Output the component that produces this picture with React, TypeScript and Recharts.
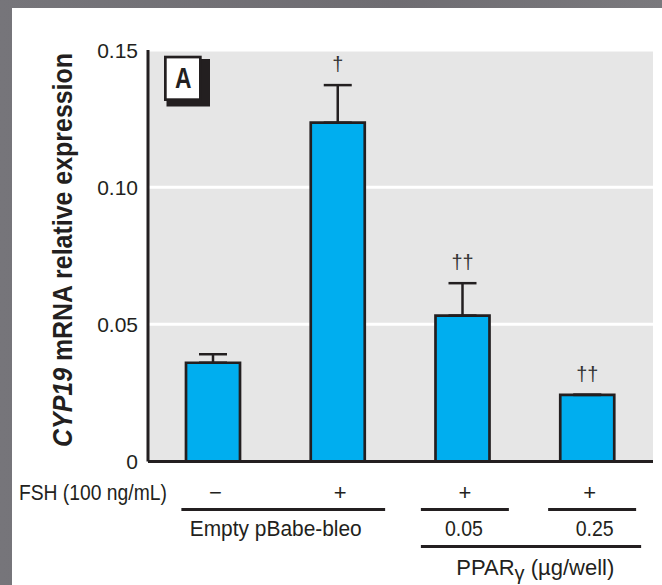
import React from 'react';
import { BarChart, Bar, XAxis, YAxis, CartesianGrid, ErrorBar, LabelList } from 'recharts';

// ---- data ----
const categories = ['Empty −FSH', 'Empty +FSH', 'PPARγ 0.05 +FSH', 'PPARγ 0.25 +FSH'];
const fshSigns = ['−', '+', '+', '+'];
const doseLabels = ['', '', '0.05', '0.25'];
const expression = [0.036, 0.1235, 0.0532, 0.0243];
const errorUp = [0.0031, 0.0137, 0.0118, 0];
const significance = ['', '†', '††', '††'];
const yTicks = [0, 0.05, 0.1, 0.15];
const yTickLabels = ['0', '0.05', '0.10', '0.15'];
const FSH_ROW_LABEL = 'FSH (100 ng/mL)';
const VECTOR_LABEL = 'Empty pBabe-bleo';
const PANEL_LABEL = 'A';

const data = categories.map((c, i) => ({
  category: c,
  value: expression[i],
  err: [0, errorUp[i]],
  sig: significance[i],
}));

// ---- layout ----
const W = 662;
const H = 585;
const PLOT_LEFT = 148;
const PLOT_RIGHT = 653;
const X_PAD = 3;
const STEP = (PLOT_RIGHT - PLOT_LEFT - 2 * X_PAD) / categories.length;
const FONT = '"Liberation Sans", Arial, Helvetica, sans-serif';
const INK = '#231f20';
const BLUE = '#00aeef';

const YTick = (props: any) => {
  const { x, y, payload } = props;
  const idx = yTicks.indexOf(payload.value);
  const label = idx >= 0 ? yTickLabels[idx] : String(payload.value);
  return (
    <text x={x} y={y} dy="0.36em" textAnchor="end" fontFamily={FONT} fontSize={21} fill={INK}>
      {label}
    </text>
  );
};

const XTick = (props: any) => {
  const { x, y, index } = props;
  const i = index as number;
  const row1 = y + 38;
  const line1 = y + 48;
  const row2 = y + 74.5;
  const line2 = y + 85;
  const row3 = y + 113.5;
  const els: any[] = [];
  els.push(
    <text key="s" x={x + 2} y={row1} textAnchor="middle" fontFamily={FONT} fontSize={22} fill={INK}>
      {fshSigns[i]}
    </text>
  );
  if (i === 0) {
    els.push(
      <text key="fsh" x={x - 46.5} y={row1} textAnchor="end" fontFamily={FONT} fontSize={22} fill={INK}
        textLength={148} lengthAdjust="spacingAndGlyphs">
        {FSH_ROW_LABEL}
      </text>
    );
    els.push(<line key="l1" x1={x - 32} x2={x + STEP + 47} y1={line1} y2={line1} stroke={INK} strokeWidth={3} />);
    els.push(
      <text key="v" x={x + STEP / 2} y={row2} textAnchor="middle" fontFamily={FONT} fontSize={22} fill={INK}
        textLength={172} lengthAdjust="spacingAndGlyphs">
        {VECTOR_LABEL}
      </text>
    );
  }
  if (i === 2) {
    els.push(<line key="l2" x1={x - 42} x2={x + 46} y1={line1} y2={line1} stroke={INK} strokeWidth={3} />);
    els.push(<line key="l3" x1={x - 42} x2={x + STEP + 53.5} y1={line2} y2={line2} stroke={INK} strokeWidth={3} />);
    els.push(
      <text key="p" x={x + STEP / 2 + 10} y={row3} textAnchor="middle" fontFamily={FONT} fontSize={22} fill={INK}>
        PPAR<tspan fontSize={20} dy={5}>γ</tspan><tspan dy={-5}> (µg/well)</tspan>
      </text>
    );
  }
  if (i === 3) {
    els.push(<line key="l4" x1={x - 39.5} x2={x + 48.5} y1={line1} y2={line1} stroke={INK} strokeWidth={3} />);
  }
  if (doseLabels[i]) {
    els.push(
      <text key="d" x={x + (i === 3 ? 7 : 1)} y={row2} textAnchor="middle" fontFamily={FONT} fontSize={22} fill={INK}
        textLength={38} lengthAdjust="spacingAndGlyphs">
        {doseLabels[i]}
      </text>
    );
  }
  return <g>{els}</g>;
};

const SigLabel = (p: any) => {
  const vb = p.viewBox || {};
  const x = p.x ?? vb.x;
  const y = p.y ?? vb.y;
  const width = p.width ?? vb.width;
  const height = p.height ?? vb.height;
  const i = p.index as number;
  if (!p.value) return null;
  const v = expression[i];
  const e = errorUp[i] || 0;
  const errPx = v ? (Math.abs(height) * e) / v : 0;
  const cy = y - errPx - 21;
  return (
    <text x={x + width / 2} y={cy + 7} textAnchor="middle" fontFamily={FONT} fontSize={20} fill="#333">
      {p.value}
    </text>
  );
};

export default function App() {
  return (
    <div style={{ position: 'absolute', left: 0, top: 0, width: W, height: H, background: 'linear-gradient(90deg, #76757a, #6f6d72 60%, #7a797d)', overflow: 'hidden' }}>
      <div style={{ position: 'absolute', left: 12, top: 8, right: 0, bottom: 0, background: '#ffffff' }} />
      <div style={{ position: 'absolute', left: 0, top: 0 }}>
        <BarChart width={W} height={H} data={data} margin={{ top: 50, right: W - PLOT_RIGHT, bottom: 4, left: PLOT_LEFT - 60 }}>
          <CartesianGrid vertical={false} stroke="#ffffff" strokeWidth={3} fill="#e6e6e6" />
          <YAxis
            width={60}
            domain={[0, 0.15]}
            ticks={yTicks}
            tickLine={false}
            tickSize={0}
            tickMargin={10}
            axisLine={{ stroke: INK, strokeWidth: 3 }}
            tick={YTick}
            interval={0}
          />
          <XAxis
            dataKey="category"
            height={119.5}
            padding={{ left: X_PAD, right: X_PAD }}
            tickLine={false}
            tickSize={0}
            tickMargin={0}
            interval={0}
            axisLine={{ stroke: INK, strokeWidth: 3 }}
            tick={XTick}
          />
          <Bar dataKey="value" barSize={54} fill={BLUE} stroke={INK} strokeWidth={2.7} isAnimationActive={false}>
            <ErrorBar dataKey="err" direction="y" width={14} stroke={INK} strokeWidth={2.5} />
            <LabelList dataKey="sig" content={SigLabel} />
          </Bar>
        </BarChart>
      </div>
      <svg width={W} height={H} style={{ position: 'absolute', left: 0, top: 0, pointerEvents: 'none' }}>
        <text
          transform="rotate(-90)"
          x={-250}
          y={72}
          textAnchor="middle"
          fontFamily={FONT}
          fontWeight="bold"
          fontSize={28}
          fill={INK}
          textLength={394}
          lengthAdjust="spacingAndGlyphs"
        >
          <tspan fontStyle="italic">CYP19</tspan> mRNA relative expression
        </text>
        <rect x={166.5} y={59} width={43.5} height={47.5} fill={INK} />
        <rect x={165.35} y={57.05} width={35} height={42.6} fill="#ffffff" stroke={INK} strokeWidth={2.7} />
        <text x={183.2} y={88.3} textAnchor="middle" fontFamily={FONT} fontWeight="bold" fontSize={29} fill={INK}
          textLength={16.5} lengthAdjust="spacingAndGlyphs">
          {PANEL_LABEL}
        </text>
      </svg>
    </div>
  );
}
